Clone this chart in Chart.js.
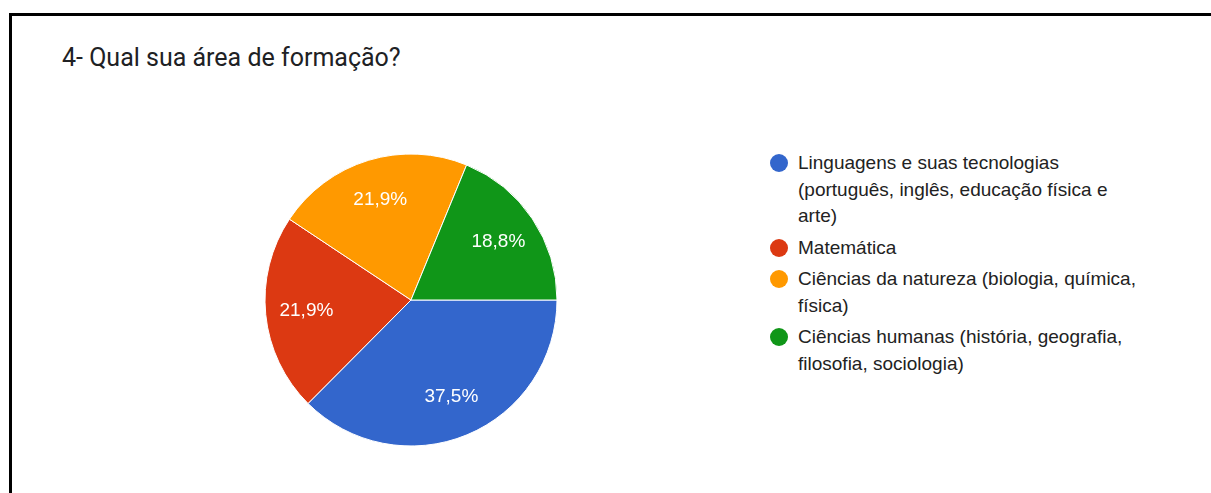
<!DOCTYPE html>
<html>
<head>
<meta charset="utf-8">
<script src="https://cdn.jsdelivr.net/npm/chart.js@4/dist/chart.umd.min.js"></script>
<style>
  html, body { margin: 0; padding: 0; background: #fff; }
  body { width: 1211px; height: 493px; position: relative; overflow: hidden; }
  #frame {
    position: absolute; left: 9px; top: 13px; width: 1210px; height: 490px;
    border-top: 3px solid #000; border-left: 3px solid #000;
  }
  #title {
    position: absolute; left: 62px; top: 43px;
    font-family: Roboto, "Noto Sans", sans-serif; font-size: 25px; line-height: 30px;
    color: #202124; white-space: nowrap;
  }
  #pieBox { position: absolute; left: 251px; top: 140px; width: 320px; height: 320px; }
  #legend {
    position: absolute; left: 770px; top: 150px; width: 380px;
    font-family: "Liberation Sans", Arial, sans-serif; font-size: 19px; line-height: 26.5px;
    color: #222;
  }
  .item { display: flex; align-items: flex-start; margin-bottom: 5px; }
  .dot { flex: none; width: 18px; height: 18px; border-radius: 50%; margin-top: 4px; margin-right: 10px; }
  .txt { width: 352px; }
</style>
</head>
<body>
<div id="frame"></div>
<div id="title">4- Qual sua área de formação?</div>
<div id="pieBox"><canvas id="pie" width="320" height="320"></canvas></div>
<div id="legend"></div>
<script>
// Answer categories and their share of responses (%)
const categories = [
  'Linguagens e suas tecnologias (português, inglês, educação física e arte)',
  'Matemática',
  'Ciências da natureza (biologia, química, física)',
  'Ciências humanas (história, geografia, filosofia, sociologia)'
];
const percentages = [37.5, 21.9, 21.9, 18.8];

// Slice colours
const sliceColors = ['#3366cc', '#dc3912', '#ff9900', '#109618'];

// Percentage labels written inside each slice
const sliceLabels = {
  id: 'sliceLabels',
  afterDatasetsDraw(chart) {
    const ctx = chart.ctx;
    const meta = chart.getDatasetMeta(0);
    ctx.save();
    ctx.fillStyle = '#ffffff';
    ctx.font = '19px "Liberation Sans", Arial, sans-serif';
    ctx.textAlign = 'center';
    ctx.textBaseline = 'middle';
    meta.data.forEach((arc, i) => {
      const p = arc.getProps(['x', 'y', 'startAngle', 'endAngle', 'outerRadius'], true);
      const mid = (p.startAngle + p.endAngle) / 2;
      const r = p.outerRadius * 0.72;
      const text = percentages[i].toFixed(1).replace('.', ',') + '%';
      ctx.fillText(text, p.x + Math.cos(mid) * r, p.y + Math.sin(mid) * r);
    });
    ctx.restore();
  }
};

new Chart(document.getElementById('pie'), {
  type: 'pie',
  data: {
    labels: categories,
    datasets: [{
      data: percentages,
      backgroundColor: sliceColors,
      borderColor: '#ffffff',
      borderWidth: 1,
      hoverOffset: 0
    }]
  },
  options: {
    responsive: false,
    animation: false,
    rotation: 90,
    radius: 146,
    layout: { padding: 0 },
    plugins: {
      legend: { display: false },
      tooltip: { enabled: false },
      title: { display: false }
    }
  },
  plugins: [sliceLabels]
});

// Legend built from the same categories and colours
const legend = document.getElementById('legend');
categories.forEach((name, i) => {
  const item = document.createElement('div');
  item.className = 'item';
  const dot = document.createElement('span');
  dot.className = 'dot';
  dot.style.background = sliceColors[i];
  const txt = document.createElement('span');
  txt.className = 'txt';
  txt.textContent = name;
  item.appendChild(dot);
  item.appendChild(txt);
  legend.appendChild(item);
});
</script>
</body>
</html>
